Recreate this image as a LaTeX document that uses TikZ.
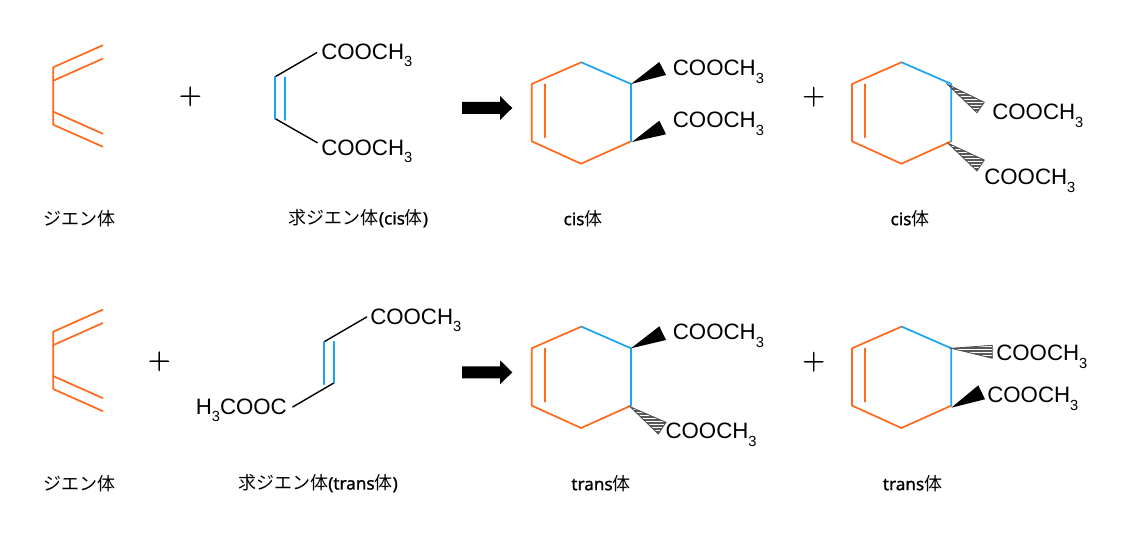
\documentclass[tikz,border=0pt]{standalone}
\usepackage{fontspec}
\newfontfamily\chemfont{Liberation Sans}
\newfontfamily\cjk{Noto Sans CJK JP}
\newfontfamily\latinlab{Noto Sans}[FakeBold=1.2,Scale=0.95]
\newfontfamily\plusfont{Latin Modern Roman}[FakeBold=0.6]
\definecolor{dorange}{HTML}{FF6A1C}
\definecolor{dblue}{HTML}{1AA5F2}
\newcommand{\subthree}{\raisebox{-5.6pt}{\fontsize{11}{11}\selectfont 3}}
\newcommand{\coo}{COOCH\subthree}
\newcommand{\lat}[1]{{\latinlab #1}}
% \hashwedge{tip}{corner}{corner}{list of y}
\newcommand{\hashwedge}[4]{%
  \begin{scope}
    \clip (#1) -- (#2) -- (#3) -- cycle;
    \foreach \yy in {#4} {\draw[hashline] (600,\yy) -- (1100,\yy);}
  \end{scope}
  \draw[hashedge] (#1) -- (#2) -- (#3) -- cycle;}
\tikzset{
  obond/.style={draw=dorange,line width=1.3pt,line cap=round,line join=round},
  bbond/.style={draw=dblue,line width=1.3pt,line cap=round,line join=round},
  kbond/.style={draw=black,line width=1.05pt,line cap=round},
  chem/.style={inner sep=0pt,anchor=base west,font=\chemfont\fontsize{16.7}{17}\selectfont},
  lab/.style={inner sep=0pt,font=\cjk\fontsize{13.5}{16}\selectfont},
  plussign/.style={inner sep=0pt,font=\plusfont\fontsize{23.6}{24}\selectfont},
  wedge/.style={fill=black,draw=none},
  hashline/.style={draw=black!65,line width=.85pt},
  hashedge/.style={draw=black!70,line width=.6pt},
  bigarrow/.style={fill=black,draw=none},
  diene/.pic={
    \coordinate (-a) at (0,0);
    \coordinate (-b) at (0,57.4);
    \coordinate (-a1) at (49.4,-22);
    \coordinate (-a2) at (0,13.4);
    \coordinate (-a3) at (49.4,-8.6);
    \coordinate (-b1) at (49.4,22+57.4);
    \coordinate (-b2) at (0,44.4);
    \coordinate (-b3) at (49.4,66.4);
    \draw[obond] (-a1) -- (-a) -- (-b) -- (-b1);
    \draw[obond] (-a2) -- (-a3);
    \draw[obond] (-b2) -- (-b3);
  },
  ring/.pic={
    \coordinate (-v1) at (0,0);
    \coordinate (-v2) at (49.6,-21.7);
    \coordinate (-v3) at (99.3,0);
    \coordinate (-v4) at (99.3,57.3);
    \coordinate (-v5) at (49.4,79.7);
    \coordinate (-v6) at (0,57.3);
    \coordinate (-i1) at (13.3,0.3);
    \coordinate (-i2) at (13.3,53.3);
    \draw[obond] (-v2) -- (-v1) -- (-v6) -- (-v5) -- (-v4);
    \draw[bbond] (-v2) -- (-v3) -- (-v4);
    \draw[obond] (-i1) -- (-i2);
  },
  bigarr/.pic={
    \fill[bigarrow] (0,-6) -- (38,-6) -- (38,-12) -- (50.3,0) -- (38,12) -- (38,6) -- (0,6) -- cycle;
  },
}
\begin{document}
\begin{tikzpicture}[x=0.75pt,y=-0.75pt]
\useasboundingbox (0,0) rectangle (1146,548);

% ---------- row 1 ----------
\pic (d1) at (53.3,67.3) {diene};
\node[plussign] (p1) at (190.3,96.3) {+};
\coordinate (c1a) at (275.3,76.7);
\coordinate (c1b) at (275.3,118.7);
\coordinate (c1at) at (316.7,52.7);
\coordinate (c1bt) at (317.3,142.7);
\coordinate (c1i) at (285,77.3);
\coordinate (c1j) at (285,120);
\draw[kbond] (c1at) -- (c1a);
\draw[kbond] (c1bt) -- (c1b);
\draw[bbond] (c1a) -- (c1b);
\draw[bbond] (c1i) -- (c1j);
\node[chem] (t1a) at (321,59.3) {\coo};
\node[chem] (t1b) at (321,155.3) {\coo};
\pic (a1) at (462,108) {bigarr};
\pic (r1) at (531.7,84) {ring};
\fill[wedge] (r1-v3) -- (659.3,62) -- (666,75) -- cycle;
\fill[wedge] (632,142) -- (659.3,120.7) -- (666,134.3) -- cycle;
\node[chem] (t2a) at (672.6,76) {\coo};
\node[chem] (t2b) at (672.6,128) {\coo};
\node[plussign] (p2) at (813.7,96.7) {+};
\pic (r2) at (852,84) {ring};
\hashwedge{947.3,84.3}{984.3,102.3}{977,112.7}{86,89,...,113}
\hashwedge{948,143.3}{984.3,160}{977,171}{145,148,...,172}
\node[chem] (t3a) at (992,120) {\coo};
\node[chem] (t3b) at (984,185) {\coo};

\node[lab] (l1) at (79.5,218.3) {ジエン体};
\node[lab] (l2) at (358.5,218.3) {求ジエン体\lat{(cis}体\lat{)}};
\node[lab] (l3) at (583,218.3) {\lat{cis}体};
\node[lab] (l4) at (910,218.3) {\lat{cis}体};

% ---------- row 2 ----------
\pic (d2) at (53.3,331.7) {diene};
\node[plussign] (p3) at (159.3,361.3) {+};
\coordinate (c2a) at (324.3,341.7);
\coordinate (c2b) at (334.3,382.7);
\coordinate (c2at) at (366.7,317);
\coordinate (c2bt) at (292.7,407);
\coordinate (c2i) at (324.3,384.3);
\coordinate (c2j) at (334.3,341.7);
\draw[kbond] (c2at) -- (c2a);
\draw[kbond] (c2bt) -- (c2b);
\draw[bbond] (c2a) -- (c2i);
\draw[bbond] (c2j) -- (c2b);
\node[chem] (t4a) at (370,324.3) {\coo};
\node[chem] (t4b) at (195.5,414.3) {H\subthree COOC};
\pic (a2) at (462,372.3) {bigarr};
\pic (r3) at (531.7,348.3) {ring};
\fill[wedge] (r3-v3) -- (659.3,326.3) -- (666,340) -- cycle;
\hashwedge{630,406.7}{666,422.3}{658.3,434}{408,411,...,435}
\node[chem] (t5a) at (672.6,340) {\coo};
\node[chem] (t5b) at (665.3,439) {\coo};
\node[plussign] (p4) at (813.7,361.7) {+};
\pic (r4) at (852,348.3) {ring};
\hashwedge{951.3,348.3}{992.3,345.3}{992.3,358.3}{345,348,...,360}
\fill[wedge] (951.3,407.7) -- (978.3,385.3) -- (985,399.3) -- cycle;
\node[chem] (t6a) at (996,361) {\coo};
\node[chem] (t6b) at (987,403) {\coo};

\node[lab] (l5) at (79.5,483.3) {ジエン体};
\node[lab] (l6) at (318,483.3) {求ジエン体\lat{(trans}体\lat{)}};
\node[lab] (l7) at (601,483.3) {\lat{trans}体};
\node[lab] (l8) at (912.5,483.3) {\lat{trans}体};
\end{tikzpicture}
\end{document}
